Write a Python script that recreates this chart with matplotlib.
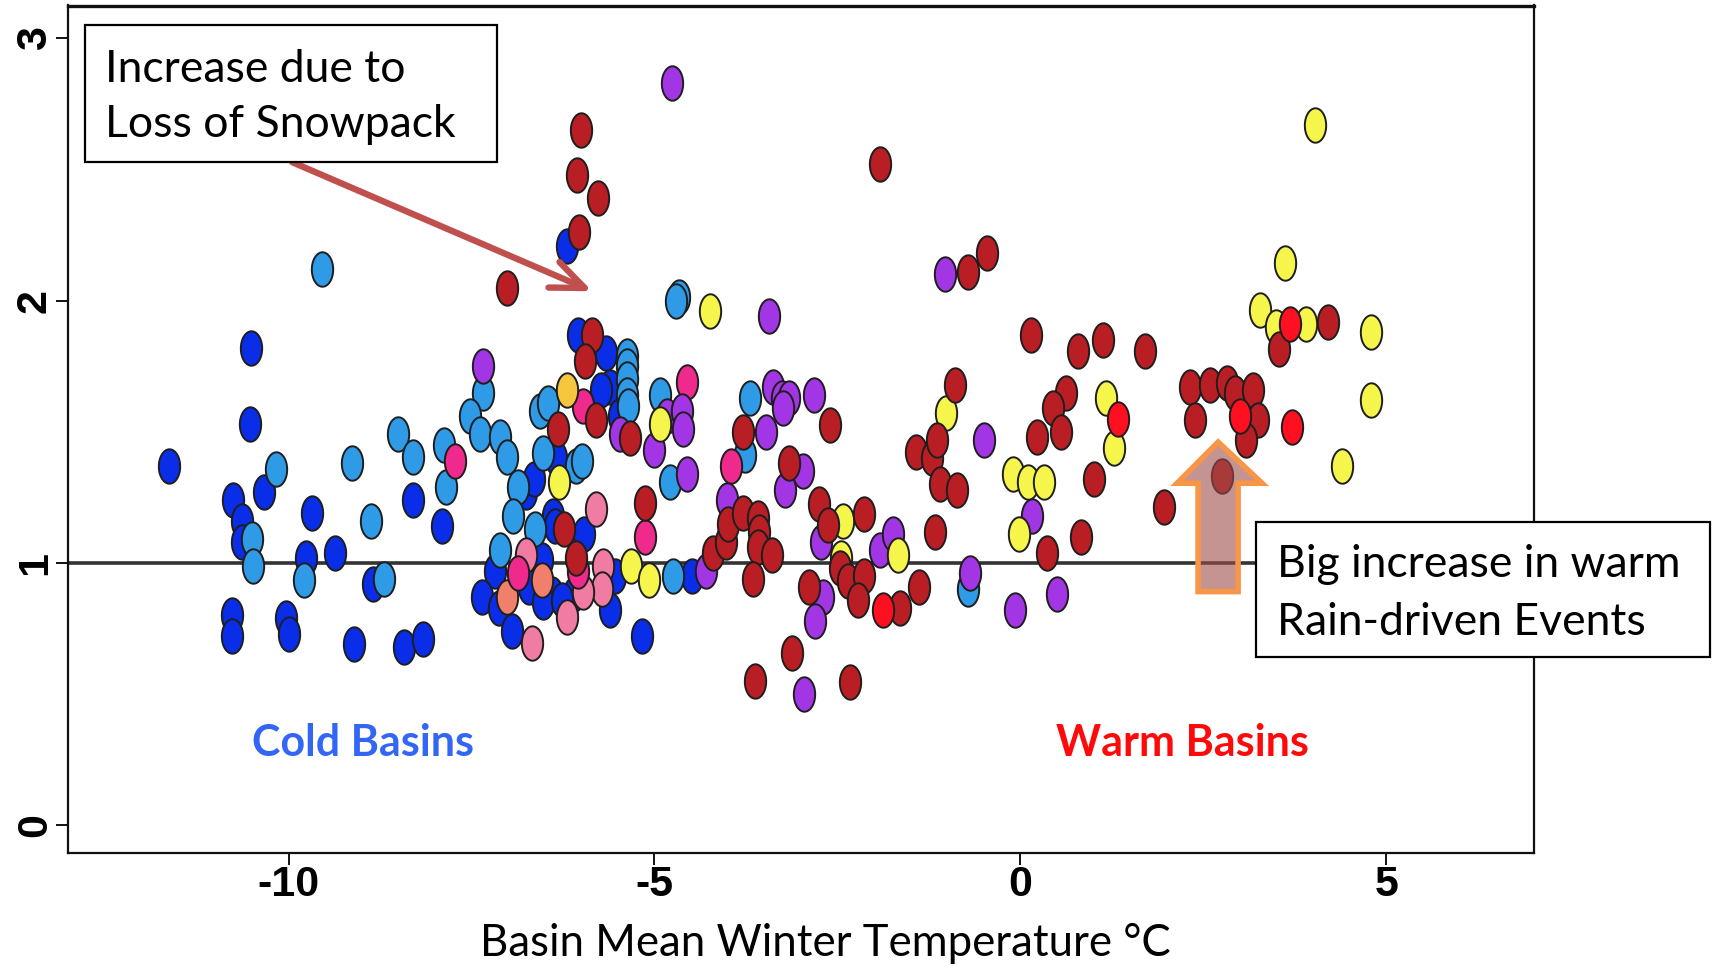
import numpy as np
import matplotlib
matplotlib.use("Agg")
import matplotlib.pyplot as plt
from matplotlib.path import Path
from matplotlib.patches import Polygon, Rectangle

plt.rcParams['axes.unicode_minus'] = False

# ---------------- data (x = basin mean winter temperature, y = ratio) ----------------
blue = [(-11.64, 1.37), (-10.52, 1.82), (-10.53, 1.53), (-10.33, 1.27), (-10.76, 1.24),
        (-10.64, 1.16), (-10.64, 1.08), (-9.68, 1.19), (-9.76, 1.02), (-9.37, 1.04),
        (-8.85, 0.92), (-8.30, 1.24), (-7.90, 1.14), (-10.78, 0.80), (-10.77, 0.72),
        (-10.03, 0.79), (-9.99, 0.73), (-9.11, 0.69), (-8.42, 0.68), (-8.17, 0.71),
        (-6.19, 2.21), (-6.05, 1.87), (-5.66, 1.80), (-5.61, 1.67), (-5.73, 1.66),
        (-5.49, 1.56), (-6.35, 1.40), (-6.75, 1.27), (-6.65, 1.32), (-6.38, 1.18),
        (-6.36, 1.14), (-5.96, 1.11), (-7.18, 0.97), (-6.54, 1.01), (-6.72, 0.91),
        (-6.40, 0.88), (-6.52, 0.85), (-7.36, 0.87), (-7.13, 0.83), (-6.95, 0.74),
        (-6.10, 0.88), (-6.27, 0.86), (-5.54, 0.95), (-5.61, 0.82), (-5.17, 0.72),
        (-4.49, 0.95)]
light_blue = [(-9.54, 2.12), (-10.17, 1.36), (-10.50, 1.09), (-10.49, 0.99), (-9.79, 0.935),
              (-9.13, 1.38), (-8.87, 1.16), (-8.69, 0.94), (-8.51, 1.49), (-8.30, 1.405),
              (-7.88, 1.45), (-7.85, 1.29), (-7.34, 1.65), (-7.52, 1.56), (-7.38, 1.49),
              (-7.11, 1.48), (-7.01, 1.405), (-6.56, 1.58), (-6.46, 1.61), (-6.52, 1.42),
              (-6.07, 1.37), (-5.99, 1.39), (-6.86, 1.29), (-6.93, 1.18), (-6.63, 1.13),
              (-7.11, 1.05), (-5.38, 1.79), (-5.38, 1.75), (-5.38, 1.70), (-5.38, 1.64),
              (-5.36, 1.60), (-4.92, 1.64), (-4.79, 1.31), (-4.66, 2.015), (-4.70, 2.00),
              (-4.74, 0.95), (-3.70, 1.63), (-3.76, 1.41), (-0.71, 0.90)]
magenta = [(-7.73, 1.39), (-5.97, 1.60), (-5.13, 1.10), (-4.55, 1.69), (-3.96, 1.37),
           (-6.87, 0.96), (-6.05, 0.97)]
light_pink = [(-5.80, 1.205), (-6.75, 1.03), (-6.68, 0.695), (-6.19, 0.795), (-5.70, 0.99),
              (-5.72, 0.90), (-5.97, 0.89)]
salmon = [(-6.54, 0.935), (-7.01, 0.87)]
purple = [(-4.76, 2.83), (-7.34, 1.75), (-5.47, 1.49), (-4.83, 1.56), (-4.63, 1.58),
          (-4.61, 1.51), (-5.01, 1.43), (-4.55, 1.34), (-4.01, 1.24), (-4.29, 0.97),
          (-3.44, 1.94), (-3.38, 1.67), (-3.26, 1.63), (-3.16, 1.63), (-3.24, 1.59),
          (-2.82, 1.64), (-3.48, 1.50), (-3.22, 1.28), (-2.97, 1.35), (-2.72, 1.08),
          (-2.70, 0.87), (-2.81, 0.78), (-1.92, 1.05), (-1.74, 1.11), (-1.03, 2.10),
          (-0.49, 1.47), (-0.69, 0.96), (-2.95, 0.50), (0.16, 1.18), (-0.07, 0.82),
          (0.50, 0.88)]
yellow = [(-4.24, 1.96), (-6.31, 1.31), (-4.92, 1.53), (-5.32, 0.99), (-5.07, 0.935),
          (-2.43, 1.16), (-2.45, 1.02), (-1.67, 1.03), (-1.01, 1.57), (-0.095, 1.34),
          (0.11, 1.31), (0.33, 1.31), (-0.025, 1.11), (1.17, 1.63), (1.28, 1.44),
          (3.28, 1.965), (3.62, 2.145), (4.03, 2.67), (3.50, 1.90), (3.91, 1.91),
          (4.79, 1.88), (4.79, 1.62), (4.40, 1.37)]
gold = [(-6.20, 1.66)]
dark_red = [(-6.01, 2.65), (-6.06, 2.48), (-5.77, 2.39), (-6.03, 2.26), (-7.01, 2.05),
            (-5.86, 1.87), (-5.95, 1.77), (-5.80, 1.545), (-5.33, 1.475), (-6.32, 1.51),
            (-6.24, 1.13), (-5.13, 1.23), (-6.07, 1.02), (-4.20, 1.04), (-4.02, 1.08),
            (-3.99, 1.15), (-1.92, 2.52), (-0.71, 2.11), (-0.45, 2.18), (-2.60, 1.525),
            (-3.79, 1.50), (-3.79, 1.19), (-3.58, 1.17), (-3.57, 1.12), (-3.58, 1.06),
            (-3.39, 1.03), (-3.65, 0.94), (-3.16, 1.38), (-2.75, 1.225), (-2.63, 1.145),
            (-2.47, 0.98), (-2.35, 0.93), (-2.13, 1.185), (-2.13, 0.95), (-2.22, 0.86),
            (-2.89, 0.91), (-1.65, 0.83), (-1.39, 0.91), (-1.17, 1.12), (-1.42, 1.425),
            (-1.21, 1.40), (-1.14, 1.47), (-0.89, 1.68), (-1.10, 1.30), (-0.86, 1.28),
            (-3.12, 0.655), (-3.62, 0.55), (-2.33, 0.545), (0.15, 1.87), (0.79, 1.81),
            (1.13, 1.85), (1.70, 1.81), (0.625, 1.65), (0.45, 1.59), (0.556, 1.50),
            (0.224, 1.48), (1.00, 1.32), (0.36, 1.04), (0.825, 1.10), (1.97, 1.215),
            (2.32, 1.67), (2.39, 1.545), (2.59, 1.68), (2.82, 1.685), (2.94, 1.65),
            (3.18, 1.66), (3.25, 1.545), (3.09, 1.47), (2.75, 1.33), (3.54, 1.815),
            (4.21, 1.92)]
red = [(-1.88, 0.82), (1.34, 1.55), (3.00, 1.56), (3.68, 1.91), (3.71, 1.52)]

groups = [
    (blue, "#0A2DE8"),
    (light_blue, "#2F9BE6"),
    (salmon, "#F0806C"),
    (light_pink, "#F07CA4"),
    (magenta, "#F02A8C"),
    (gold, "#F5C63E"),
    (purple, "#A236E4"),
    (yellow, "#F6F54C"),
    (dark_red, "#B81E24"),
    (red, "#FF1020"),
]

x_ticks = [-10, -5, 0, 5]
x_tick_labels = ["-10", "-5", "0", "5"]
y_ticks = [0, 1, 2, 3]
y_tick_labels = ["0", "1", "2", "3"]

# ---------------- figure ----------------
W, H = 1714, 967
fig = plt.figure(figsize=(W / 100, H / 100), dpi=100)
fig.patch.set_facecolor("white")
ax = fig.add_axes([68 / W, 1 - 853 / H, (1534 - 68) / W, (853 - 5.5) / H])
ax.set_xlim(-13.015, 7.02)
ax.set_ylim(-0.1056, 3.1254)

# elongated (tall) elliptical marker, as in the reference
theta = np.linspace(0, 2 * np.pi, 73)
ell = Path(np.column_stack([0.62 * np.cos(theta), 1.0 * np.sin(theta)]), closed=True)

ax.axhline(1, color="#333333", lw=2.6, zorder=1)

for pts, col in groups:
    arr = np.array(pts)
    ax.scatter(arr[:, 0], arr[:, 1], s=24.8 ** 2, marker=ell, facecolor=col,
               edgecolor="#1e1e1e", linewidth=1.4, zorder=2)

for sp in ax.spines.values():
    sp.set_linewidth(1.6)
    sp.set_color("#111111")
ax.spines["top"].set_linewidth(2.4)

tick_font = dict(family=["Liberation Sans", "DejaVu Sans"], weight="bold", size=31)
ax.set_xticks(x_ticks)
ax.set_xticklabels(x_tick_labels, **tick_font)
ax.set_yticks(y_ticks)
ax.set_yticklabels(y_tick_labels, rotation=90, va="center", **tick_font)
ax.tick_params(axis="x", length=8.6, width=1.4, pad=0, color="#111111")
ax.tick_params(axis="y", length=8.4, width=1.4, pad=1, color="#111111")

cal = ["Lato", "DejaVu Sans"]

# region labels
ax.text(-8.98, 0.264, "Cold Basins", color="#3366F5", fontsize=31, fontweight="bold",
        family=cal, ha="center", va="baseline", zorder=5)
ax.text(2.22, 0.264, "Warm Basins", color="#FF0A0A", fontsize=31, fontweight="bold",
        family=cal, ha="center", va="baseline", zorder=5)

# x-axis title
fig.text(825 / W, 1 - 956 / H, "Basin Mean Winter Temperature °C", fontsize=31.5,
         family=cal, ha="center", va="baseline", color="black")

# red arrow toward the snowpack-loss cluster
ax.annotate("", xy=(-5.85, 2.036), xytext=(-9.95, 2.528),
            arrowprops=dict(arrowstyle="->,head_length=2.4,head_width=1.0",
                            color="#C0504D", lw=4.6, mutation_scale=10,
                            shrinkA=0, shrinkB=0),
            annotation_clip=False, zorder=6)

# orange block arrow (semi-transparent fill)
block = [(2.703, 1.461), (3.304, 1.304), (2.976, 1.304), (2.976, 0.891),
         (2.429, 0.891), (2.429, 1.304), (2.142, 1.304)]
ax.add_patch(Polygon(block, closed=True, facecolor=(0.62, 0.30, 0.29, 0.6),
                     edgecolor="#F79646", lw=4.0, joinstyle="miter", zorder=4))

# annotation boxes (figure coordinates)
def box(x0, y0, x1, y1):
    fig.add_artist(Rectangle((x0 / W, 1 - y1 / H), (x1 - x0) / W, (y1 - y0) / H,
                             transform=fig.transFigure, facecolor="white",
                             edgecolor="black", lw=1.6, zorder=5))

box(85, 25, 497, 162)
fig.text(105 / W, 1 - 82 / H, "Increase due to", fontsize=32, family=cal,
         ha="left", va="baseline", zorder=6)
fig.text(105 / W, 1 - 137 / H, "Loss of Snowpack", fontsize=32, family=cal,
         ha="left", va="baseline", zorder=6)

box(1256, 522, 1710, 657)
fig.text(1277 / W, 1 - 577 / H, "Big increase in warm", fontsize=32, family=cal,
         ha="left", va="baseline", zorder=6)
fig.text(1277 / W, 1 - 635 / H, "Rain-driven Events", fontsize=32, family=cal,
         ha="left", va="baseline", zorder=6)

fig.savefig("out.png", dpi=100, facecolor="white")
